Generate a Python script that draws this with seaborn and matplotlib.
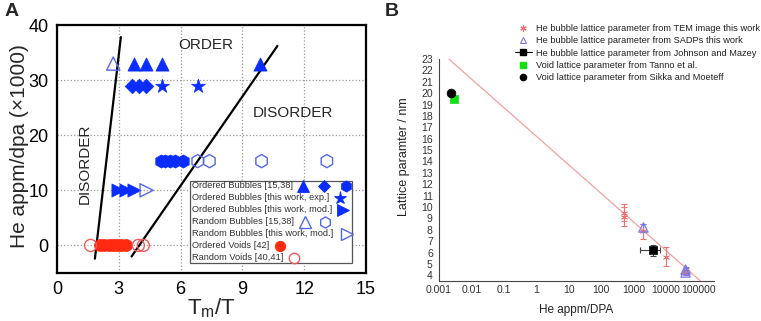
import numpy as np
import pandas as pd
import matplotlib
matplotlib.use('Agg')
import matplotlib.pyplot as plt
import seaborn as sns
from matplotlib.ticker import MultipleLocator, FixedLocator, LogLocator, NullFormatter, FixedFormatter
from matplotlib.lines import Line2D
from matplotlib.patches import Rectangle

sns.set_style('white')
plt.rcParams['font.family'] = ['Liberation Sans', 'DejaVu Sans']

# ---------------- Panel A data ----------------
ord_tri_x = [3.74, 4.3, 5.08, 9.85]
ord_tri_y = [33, 33, 33, 33]
ord_dia_x = [3.66, 4.0, 4.3]
ord_dia_y = [29, 29, 29]
ord_hex_x = [5.05, 5.25, 5.5, 5.75, 6.1]
ord_hex_y = [15.3, 15.3, 15.3, 15.3, 15.3]
star_x = [5.08, 6.86]
star_y = [29, 29]
rtri_x = [2.98, 3.35, 3.75]
rtri_y = [10, 10, 10]
rnd_tri_x = [2.73]
rnd_tri_y = [33]
rnd_hex_x = [6.83, 7.4, 9.93, 13.1]
rnd_hex_y = [15.3, 15.3, 15.3, 15.3]
rnd_rtri_x = [4.35]
rnd_rtri_y = [10]
void_x = [2.09, 2.3, 2.5, 2.7, 2.9, 3.1, 3.35]
void_y = [0, 0, 0, 0, 0, 0, 0]
rvoid_x = [1.63, 3.95, 4.19]
rvoid_y = [0, 0, 0]
bound1_x = [1.84, 3.1]
bound1_y = [-2.4, 37.8]
bound2_x = [3.62, 10.7]
bound2_y = [-2.0, 36.2]
legA_labels = ["Ordered Bubbles [15,38]", "Ordered Bubbles [this work, exp.]",
               "Ordered Bubbles [this work, mod.]", "Random Bubbles [15,38]",
               "Random Bubbles [this work, mod.]", "Ordered Voids [42]",
               "Random Voids [40,41]"]

# ---------------- Panel B data ----------------
tem_x = [500, 500, 2000, 10000, 40000]
tem_y = [9.5, 9.15, 7.85, 5.65, 4.3]
tem_err = [0.75, 0.85, 0.7, 0.85, 0.3]
sadp_x = [2000, 40000, 40000]
sadp_y = [8.2, 4.5, 4.25]
sadp_err = [0.35, 0.2, 0.2]
jm_x = [4000]
jm_y = [6.2]
jm_xerr_lo = [2450]
jm_xerr_hi = [2700]
jm_yerr = [0.5]
tanno_x = [0.003]
tanno_y = [19.5]
sikka_x = [0.0023]
sikka_y = [20.0]
fit_x = [0.002, 115000]
fit_y = [23.0, 3.5]
legB_labels = ["He bubble lattice parameter from TEM image this work",
               "He bubble lattice parameter from SADPs this work",
               "He bubble lattice parameter from Johnson and Mazey",
               "Void lattice parameter from Tanno et al.",
               "Void lattice parameter from Sikka and Moeteff"]
xB_ticks = [0.001, 0.01, 0.1, 1, 10, 100, 1000, 10000, 100000]
xB_ticklabels = ["0.001", "0.01", "0.1", "1", "10", "100", "1000", "10000", "100000"]

W, H = 761, 321
fig = plt.figure(figsize=(W / 100, H / 100), dpi=100)
axA = fig.add_axes([57 / W, (H - 273) / H, 309 / W, 248 / H])
axB = fig.add_axes([439 / W, (H - 281) / H, 275 / W, 222 / H])

BLUE = '#0a2cff'
BLUE_O = '#5468e6'
RED = '#ff2a10'
RED_O = '#f05a5a'


def sc(ax, x, y, marker, color, s, filled=True, lw=1.0, z=3):
    df = pd.DataFrame({'x': x, 'y': y})
    if filled:
        sns.scatterplot(data=df, x='x', y='y', ax=ax, marker=marker, color=color,
                        edgecolor=color, s=s, linewidth=0.5, zorder=z, legend=False)
    else:
        sns.scatterplot(data=df, x='x', y='y', ax=ax, marker=marker, color=color,
                        facecolor='none', edgecolor=color, s=s, linewidth=lw,
                        zorder=z, legend=False)


# ---------------- Panel A ----------------
sns.lineplot(x=bound1_x, y=bound1_y, ax=axA, color='black', lw=1.6, sort=False,
             estimator=None, zorder=2)
sns.lineplot(x=bound2_x, y=bound2_y, ax=axA, color='black', lw=1.6, sort=False,
             estimator=None, zorder=2)

sc(axA, rnd_tri_x, rnd_tri_y, '^', BLUE_O, 90, filled=False)
sc(axA, ord_tri_x, ord_tri_y, '^', BLUE, 90)
sc(axA, ord_dia_x, ord_dia_y, 'D', BLUE, 55)
sc(axA, star_x, star_y, '*', BLUE, 110)
sc(axA, ord_hex_x, ord_hex_y, 'h', BLUE, 90)
sc(axA, rnd_hex_x, rnd_hex_y, 'h', BLUE_O, 90, filled=False)
sc(axA, rtri_x, rtri_y, '>', BLUE, 90)
sc(axA, rnd_rtri_x, rnd_rtri_y, '>', BLUE_O, 90, filled=False)
sc(axA, void_x, void_y, 'o', RED, 75)
sc(axA, rvoid_x, rvoid_y, 'o', RED_O, 75, filled=False)

axA.set_xlim(0, 15)
axA.set_ylim(-5, 40)
axA.xaxis.set_major_locator(MultipleLocator(3))
axA.xaxis.set_minor_locator(MultipleLocator(1.5))
axA.yaxis.set_major_locator(MultipleLocator(10))
axA.yaxis.set_minor_locator(MultipleLocator(5))
axA.tick_params(axis='both', which='major', direction='in', length=5, width=1.3,
                labelsize=13, pad=6, colors='black')
axA.tick_params(axis='both', which='minor', direction='in', length=3, width=1.0)
axA.grid(True, which='major', ls=':', color='#9a9a9a', lw=0.9)
for sp in axA.spines.values():
    sp.set_visible(True)
    sp.set_linewidth(1.6)
    sp.set_color('black')
axA.set_xlabel('T$_\\mathregular{m}$/T', fontsize=16)
axA.set_ylabel('He appm/dpa (\u00d71000)', fontsize=15)
axA.xaxis.set_label_coords(0.498, -0.095)
axA.yaxis.set_label_coords(-0.09, 0.51)

axA.text(7.2, 36.4, 'ORDER', fontsize=11, ha='center', va='center')
axA.text(11.45, 24.0, 'DISORDER', fontsize=11, ha='center', va='center')
axA.text(1.36, 14.9, 'DISORDER', fontsize=11, ha='center', va='center', rotation=90)

# manual legend for panel A (markers placed right after text)
def ax_x(px):
    return (px - 57) / 309


def ax_y(py):
    return (273 - py) / 248


axA.add_patch(Rectangle((ax_x(190), ax_y(263)), ax_x(352) - ax_x(190), ax_y(181) - ax_y(263),
                        transform=axA.transAxes, facecolor='white', edgecolor='#555555',
                        lw=0.9, zorder=5))
row_py = [185.5, 197.5, 209.5, 221.5, 233.5, 245.5, 257.5]
for lab, py in zip(legA_labels, row_py):
    axA.text(ax_x(192.5), ax_y(py), lab, transform=axA.transAxes, fontsize=6.7,
             color='#333333', ha='left', va='center', zorder=6)
leg_marks = [
    (0, 303.3, '^', BLUE, True), (0, 324.3, 'D', BLUE, True), (0, 346, 'h', BLUE, True),
    (1, 340, '*', BLUE, True),
    (2, 343.3, '>', BLUE, True),
    (3, 305, '^', BLUE_O, False), (3, 325, 'h', BLUE_O, False),
    (4, 346.7, '>', BLUE_O, False),
    (5, 280, 'o', RED, True),
    (6, 294.3, 'o', RED_O, False),
]
for row, px, m, c, filled in leg_marks:
    ms = {'^': 8, 'D': 6.5, 'h': 8, '*': 9.5, '>': 8, 'o': 7.5}[m]
    axA.plot([ax_x(px)], [ax_y(row_py[row])], marker=m, ms=ms, transform=axA.transAxes,
             clip_on=False, zorder=7, ls='none',
             mfc=c if filled else 'none', mec=c, mew=0.6 if filled else 1.0)

# ---------------- Panel B ----------------
TEMC = '#f07070'
SADPC = '#7878e8'
sns.lineplot(x=fit_x, y=fit_y, ax=axB, color='#f4a0a0', lw=0.9, sort=False,
             estimator=None, zorder=1)
axB.errorbar(tem_x, tem_y, yerr=tem_err, fmt='none', ecolor=TEMC, elinewidth=0.8,
             capsize=2, capthick=0.8, zorder=2)
axB.errorbar(sadp_x, sadp_y, yerr=sadp_err, fmt='none', ecolor=SADPC, elinewidth=0.8,
             capsize=2, capthick=0.8, zorder=2)
axB.errorbar(jm_x, jm_y, xerr=[jm_xerr_lo, jm_xerr_hi], yerr=jm_yerr, fmt='none',
             ecolor='#444444', elinewidth=0.8, capsize=2, capthick=0.8, zorder=2)
sc(axB, tem_x, tem_y, (6, 2, 0), TEMC, 22, filled=True, z=4)
sc(axB, sadp_x, sadp_y, '^', SADPC, 45, filled=False, lw=0.9, z=4)
sc(axB, jm_x, jm_y, 's', 'black', 40, z=4)
sc(axB, tanno_x, tanno_y, 's', '#10e010', 35, z=4)
sc(axB, sikka_x, sikka_y, 'o', 'black', 40, z=4)

axB.set_xscale('log')
axB.set_xlim(1e-3, 3e5)
axB.set_ylim(3.5, 23)
axB.xaxis.set_major_locator(FixedLocator(xB_ticks))
axB.xaxis.set_major_formatter(FixedFormatter(xB_ticklabels))
axB.xaxis.set_minor_locator(LogLocator(base=10, subs=np.arange(2, 10), numticks=30))
axB.xaxis.set_minor_formatter(NullFormatter())
axB.yaxis.set_major_locator(MultipleLocator(1))
axB.yaxis.set_minor_locator(MultipleLocator(0.5))
axB.tick_params(axis='x', which='major', direction='in', length=3.5, width=0.7,
                labelsize=7.5, colors='#333333', pad=3)
axB.tick_params(axis='x', which='minor', direction='in', length=2, width=0.6, colors='#333333')
axB.tick_params(axis='y', which='major', direction='out', length=3, width=0.7,
                labelsize=7.5, colors='#333333', pad=1.5)
axB.tick_params(axis='y', which='minor', direction='out', length=1.5, width=0.6, colors='#333333')
for side in ['top', 'right']:
    axB.spines[side].set_visible(False)
for side in ['left', 'bottom']:
    axB.spines[side].set_visible(True)
    axB.spines[side].set_color('#444444')
    axB.spines[side].set_linewidth(0.8)
axB.set_xlabel('He appm/DPA', fontsize=8.5, color='#222222')
axB.set_ylabel('Lattice paramter / nm', fontsize=9, color='#222222')
axB.xaxis.set_label_coords(0.50, -0.105)
axB.yaxis.set_label_coords(-0.105, 0.56)

handles = [
    Line2D([], [], ls='none', marker=(6, 2, 0), color=TEMC, ms=4.5, mew=0.8),
    Line2D([], [], ls='none', marker='^', mfc='none', mec=SADPC, ms=5, mew=0.8),
    Line2D([], [], ls='-', lw=0.8, marker='s', color='black', ms=4),
    Line2D([], [], ls='none', marker='s', color='#10e010', ms=4),
    Line2D([], [], ls='none', marker='o', color='black', ms=4.5),
]
fig.legend(handles, legB_labels, loc='upper left', bbox_to_anchor=(515 / W, 1 - 24 / H),
           frameon=False, fontsize=6.7, handlelength=1.8, handletextpad=0.45,
           labelspacing=0.36, borderpad=0, borderaxespad=0, labelcolor='#222222')

fig.text(12 / W, 1 - 12 / H, 'A', fontsize=14, fontweight='bold', ha='center', va='center')
fig.text(392 / W, 1 - 12 / H, 'B', fontsize=14, fontweight='bold', ha='center', va='center')

fig.savefig('out.png', dpi=100)
